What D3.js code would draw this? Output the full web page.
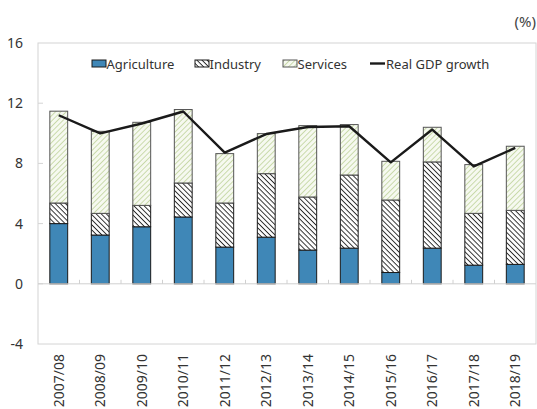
<!DOCTYPE html>
<html>
<head>
<meta charset="utf-8">
<script src="https://cdn.jsdelivr.net/npm/d3@7"></script>
<style>
  body { margin: 0; background: #fff; }
  svg { display: block; font-family: "Noto Sans", "Open Sans", sans-serif; }
</style>
</head>
<body>
<svg id="chart" width="537" height="409"></svg>
<script>
// values (%)
const years = ["2007/08", "2008/09", "2009/10", "2010/11", "2011/12", "2012/13",
               "2013/14", "2014/15", "2015/16", "2016/17", "2017/18", "2018/19"];
const agriculture = [4.0, 3.24, 3.79, 4.44, 2.44, 3.1, 2.24, 2.37, 0.75, 2.37, 1.24, 1.29];
const industry    = [1.37, 1.44, 1.42, 2.26, 2.93, 4.22, 3.53, 4.86, 4.82, 5.73, 3.44, 3.59];
const services    = [6.1, 5.45, 5.52, 4.88, 3.28, 2.66, 4.74, 3.35, 2.57, 2.3, 3.24, 4.26];
const gdpGrowth   = [11.2, 10.0, 10.65, 11.45, 8.72, 9.95, 10.42, 10.47, 8.07, 10.25, 7.8, 9.03];
const yTicks = [-4, 0, 4, 8, 12, 16];
const seriesNames = ["Agriculture", "Industry", "Services"];

const svg = d3.select("#chart");
const plotL = 38, plotR = 536, plotT = 43, plotB = 344;

const x = d3.scaleBand().domain(years).range([plotL, plotR]).paddingInner(0).paddingOuter(0);
const y = d3.scaleLinear().domain([-4, 16]).range([plotB, plotT]);
const barW = x.bandwidth() * 0.43;

// patterns
const defs = svg.append("defs");
const ind = defs.append("pattern").attr("id", "hatchInd")
  .attr("patternUnits", "userSpaceOnUse").attr("width", 3.6).attr("height", 3.6)
  .attr("patternTransform", "rotate(45)");
ind.append("rect").attr("width", 3.6).attr("height", 3.6).attr("fill", "#fff");
ind.append("line").attr("x1", 0).attr("y1", 0).attr("x2", 3.6).attr("y2", 0)
  .attr("stroke", "#2a2a2a").attr("stroke-width", 1.9);

const srv = defs.append("pattern").attr("id", "hatchSrv")
  .attr("patternUnits", "userSpaceOnUse").attr("width", 3.8).attr("height", 3.8)
  .attr("patternTransform", "rotate(-45)");
srv.append("rect").attr("width", 3.8).attr("height", 3.8).attr("fill", "#f6f9f0");
srv.append("line").attr("x1", 0).attr("y1", 0).attr("x2", 3.8).attr("y2", 0)
  .attr("stroke", "#bfd39b").attr("stroke-width", 1.6);

const fills = ["#3f87b7", "url(#hatchInd)", "url(#hatchSrv)"];
const strokes = ["#1a1a1a", "#1a1a1a", "#555"];

// frame
svg.append("rect").attr("x", plotL).attr("y", plotT)
  .attr("width", plotR - plotL).attr("height", plotB - plotT)
  .attr("fill", "none").attr("stroke", "#d4d4d4").attr("stroke-width", 1);

// y labels and ticks
svg.append("g").selectAll("text").data(yTicks).enter().append("text")
  .attr("x", 23).attr("y", d => y(d) + 5)
  .attr("text-anchor", "end").attr("font-size", 14).attr("fill", "#333")
  .text(d => d);
svg.append("g").selectAll("line").data(yTicks.filter(d => d > -4 && d < 16)).enter().append("line")
  .attr("x1", plotL).attr("x2", plotL + 5).attr("y1", d => y(d)).attr("y2", d => y(d))
  .attr("stroke", "#d4d4d4");

// stacked bars
const rows = years.map((yr, i) => ({ year: yr, Agriculture: agriculture[i], Industry: industry[i], Services: services[i] }));
const stack = d3.stack().keys(seriesNames)(rows);

svg.append("g").selectAll("g").data(stack).enter().append("g")
  .attr("fill", (d, i) => fills[i]).attr("stroke", (d, i) => strokes[i]).attr("stroke-width", 1)
  .selectAll("rect").data(d => d).enter().append("rect")
  .attr("x", d => x(d.data.year) + (x.bandwidth() - barW) / 2)
  .attr("y", d => y(d[1]))
  .attr("width", barW)
  .attr("height", d => y(d[0]) - y(d[1]));

// zero axis line with category ticks
svg.append("line").attr("x1", plotL).attr("x2", plotR).attr("y1", y(0)).attr("y2", y(0))
  .attr("stroke", "#d0d0d0");
svg.append("g").selectAll("line").data(years.slice(1)).enter().append("line")
  .attr("x1", d => x(d)).attr("x2", d => x(d))
  .attr("y1", y(0) - 4).attr("y2", y(0))
  .attr("stroke", "#d0d0d0");

// GDP line
svg.append("path").datum(gdpGrowth)
  .attr("fill", "none").attr("stroke", "#1a1a1a").attr("stroke-width", 2.4)
  .attr("stroke-linejoin", "round")
  .attr("d", d3.line().x((d, i) => x(years[i]) + x.bandwidth() / 2).y(d => y(d)));

// x labels
svg.append("g").selectAll("text").data(years).enter().append("text")
  .attr("transform", d => `translate(${x(d) + x.bandwidth() / 2 + 5},${plotB + 10}) rotate(-90)`)
  .attr("text-anchor", "end").attr("font-size", 14).attr("fill", "#333")
  .text(d => d);

// unit
svg.append("text").attr("x", 536).attr("y", 27).attr("text-anchor", "end")
  .attr("font-size", 15).attr("fill", "#444").text("(%)");

// legend
const lg = svg.append("g").attr("font-size", 13).attr("fill", "#333");
const legendX = [92, 195, 283];
seriesNames.forEach((name, i) => {
  lg.append("rect").attr("x", legendX[i]).attr("y", 60).attr("width", 14).attr("height", 7)
    .attr("fill", fills[i]).attr("stroke", strokes[i]);
  lg.append("text").attr("x", legendX[i] + 14.5).attr("y", 68.5).text(name);
});
lg.append("line").attr("x1", 370).attr("x2", 385).attr("y1", 63.5).attr("y2", 63.5)
  .attr("stroke", "#1a1a1a").attr("stroke-width", 2.4);
lg.append("text").attr("x", 386).attr("y", 68.5).text("Real GDP growth");
</script>
</body>
</html>
